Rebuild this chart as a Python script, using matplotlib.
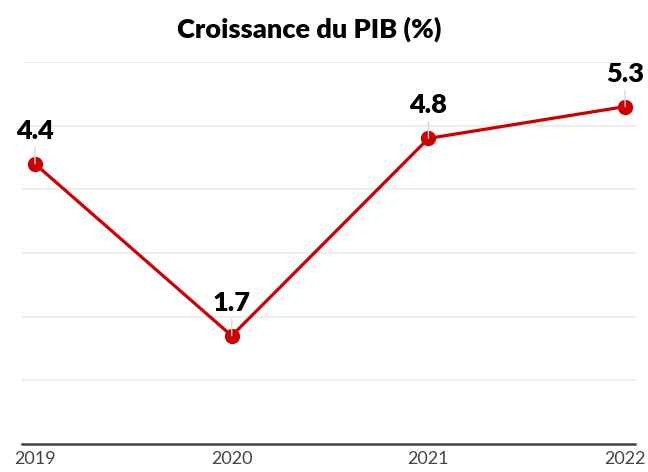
import matplotlib
matplotlib.use("Agg")
import matplotlib.pyplot as plt

years = [2019, 2020, 2021, 2022]
growth = [4.4, 1.7, 4.8, 5.3]
labels = ["4.4", "1.7", "4.8", "5.3"]
title = "Croissance du PIB (%)"

RED = "#cc0000"

plt.rcParams['font.family'] = ['Lato', 'DejaVu Sans']

fig = plt.figure(figsize=(6.48, 4.72), dpi=100)
ax = fig.add_axes([22 / 648, 28 / 472, 613 / 648, 382 / 472])

ax.plot(years, growth, color=RED, linewidth=2.3, marker='o',
        markersize=10, zorder=4, solid_capstyle='round')

for x, y, lab in zip(years, growth, labels):
    ax.annotate(lab, xy=(x, y), xytext=(0, 18), textcoords='offset points',
                ha='center', va='baseline', fontsize=19.5, fontweight='heavy',
                color='black', zorder=5,
                arrowprops=dict(arrowstyle='-', color='#d9d9d9', lw=1,
                                shrinkA=1, shrinkB=0))

ax.set_xlim(2018.934, 2022.05)
ax.set_ylim(0, 6)
ax.set_yticks(range(0, 7))
ax.set_yticklabels([])
ax.set_xticks(years)
ax.set_xticklabels([str(y) for y in years])
ax.tick_params(axis='both', length=0)
ax.tick_params(axis='x', pad=5, labelsize=13, labelcolor='#444444')

ax.grid(axis='y', color='#ebebeb', linewidth=1.2, zorder=0)
ax.set_axisbelow(True)
for side in ['top', 'right', 'left']:
    ax.spines[side].set_visible(False)
ax.spines['bottom'].set_color('#444444')
ax.spines['bottom'].set_linewidth(1.8)

fig.text(309 / 648, (472 - 38) / 472, title, ha='center', va='baseline',
         fontsize=19.5, fontweight='heavy', color='black')

fig.savefig("out.png", dpi=100)
